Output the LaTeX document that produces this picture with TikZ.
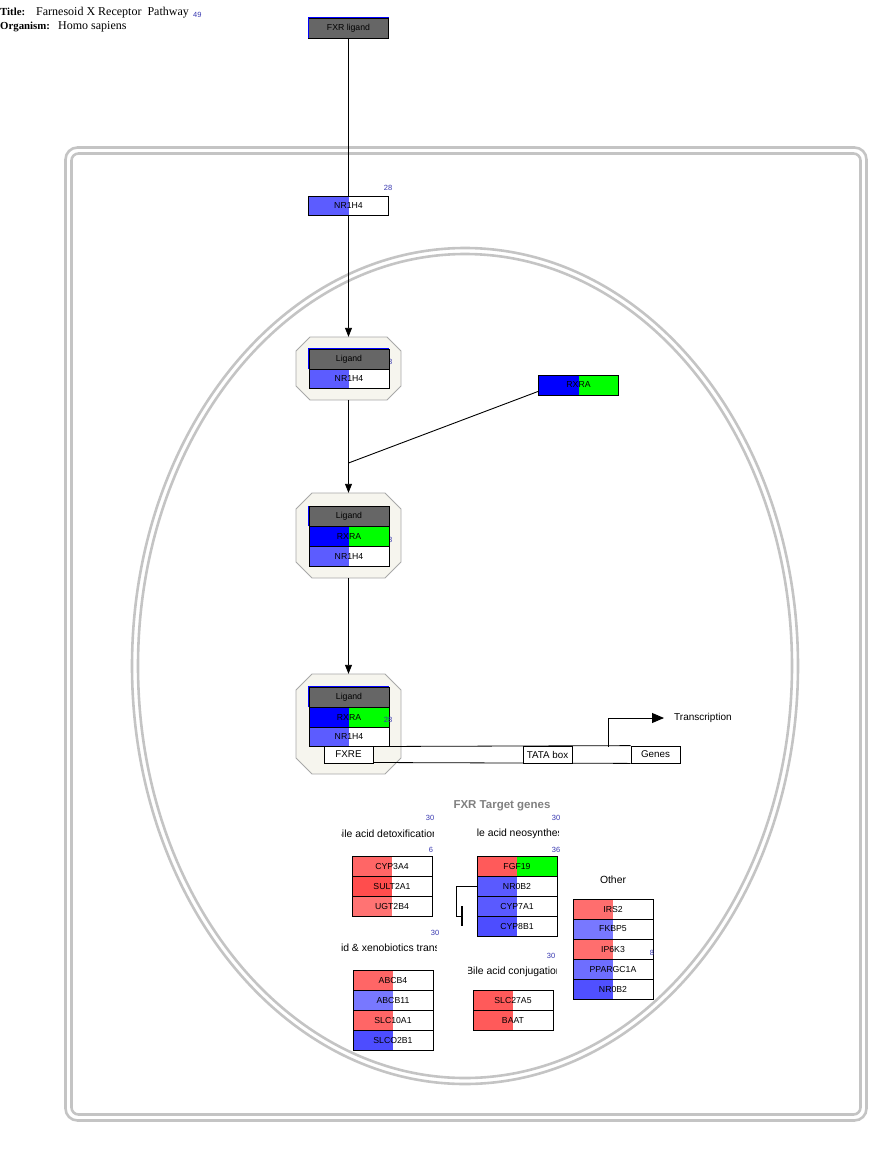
\documentclass[tikz,border=0pt]{standalone}
\usepackage{fontspec}
\setmainfont{Liberation Serif}
\newfontfamily\arial{Liberation Sans}
\usetikzlibrary{arrows.meta}
\definecolor{lig}{HTML}{666666}
\definecolor{nrb}{HTML}{5C5CFF}
\definecolor{rxb}{HTML}{0000FF}
\definecolor{rxg}{HTML}{00FF00}
\definecolor{numblue}{HTML}{3838B0}
\definecolor{framegray}{HTML}{C4C4C4}
\definecolor{cpxfill}{HTML}{F6F5EE}
\definecolor{cpxborder}{HTML}{A8A8A8}
\definecolor{titlegray}{HTML}{808080}
\definecolor{rA}{HTML}{FF6666}
\definecolor{rB}{HTML}{FF4D4D}
\definecolor{rC}{HTML}{FF7373}
\definecolor{rD}{HTML}{FF5A5A}
\definecolor{rE}{HTML}{FF6E6E}
\definecolor{bA}{HTML}{5A5AFF}
\definecolor{bB}{HTML}{4D4DFF}
\definecolor{bC}{HTML}{7878FF}
\definecolor{bD}{HTML}{6E6EFF}
\definecolor{bE}{HTML}{5050FF}
\newcommand\octo[5]{\draw[cpx] (#1+#5,#2) -- (#3-#5,#2) -- (#3,#2+#5) -- (#3,#4-#5) -- (#3-#5,#4) -- (#1+#5,#4) -- (#1,#4-#5) -- (#1,#2+#5) -- cycle;}
\tikzset{
 gene/.style={draw=black, fill=white, line width=0.9pt, minimum width=80pt, minimum height=20pt, inner sep=0pt,
   font=\arial\fontsize{8.7}{9}\selectfont,
   path picture={\fill[#1] (path picture bounding box.south west) rectangle (path picture bounding box.north);}},
 ligbox/.style={draw=black, fill=lig, line width=0.9pt, minimum width=80pt, minimum height=20pt, inner sep=0pt,
   font=\arial\fontsize{8.7}{9}\selectfont},
 num/.style={font=\arial\fontsize{7.5}{8}\selectfont, text=numblue, inner sep=0pt},
 grp/.style={font=\arial\fontsize{10.4}{11}\selectfont, inner sep=0pt},
 dnabox/.style={draw=black, fill=white, line width=0.8pt, minimum width=49pt, minimum height=17pt, inner sep=0pt,
   font=\arial\fontsize{9.8}{10}\selectfont},
 frame/.style={draw=framegray, line width=2.6pt},
 cpx/.style={draw=cpxborder, fill=cpxfill, line width=0.9pt},
 conn/.style={draw=black, line width=0.9pt},
 arr/.style={conn, -{Triangle[length=9pt,width=7pt]}},
 cpxnode/.style={minimum width=105pt, inner sep=0pt},
 ttl/.style={anchor=base west, inner sep=0pt, font=\fontsize{12}{13}\selectfont},
 ttlb/.style={anchor=base west, inner sep=0pt, font=\fontsize{10.8}{12}\selectfont\bfseries},
}
\begin{document}
\begin{tikzpicture}[x=1pt,y=-1pt]
\useasboundingbox (0,0) rectangle (895,1149);
% title
\node[ttlb] (tl) at (0,15) {Title:};
\node[ttl] (tt) at (36,15) {Farnesoid X Receptor\ \ Pathway};
\node[num, anchor=base west] (tn) at (193,17) {49};
\node[ttlb] (ol) at (0,29) {Organism:};
\node[ttl] (os) at (58,29) {Homo sapiens};
% frames
\draw[frame, rounded corners=12pt] (65.5,147.5) rectangle (866.5,1120.5);
\draw[frame, rounded corners=7pt] (71.5,153.5) rectangle (860.5,1114.5);
\draw[frame] (465,666) ellipse [x radius=333, y radius=418];
\draw[frame] (465,666) ellipse [x radius=327, y radius=412];
% complexes
\octo{296}{337}{401}{400}{14}
\octo{296}{493}{401}{578}{16}
\octo{296}{674}{401}{774}{16}
\node[cpxnode, minimum height=63pt] (c1) at (348.5,368.5) {};
\node[cpxnode, minimum height=85pt] (c2) at (348.5,535.5) {};
\node[cpxnode, minimum height=100pt] (c3) at (348.5,724) {};
% connectors
\draw[arr] (348.5,38) -- (c1.north);
\draw[arr] (c1.south) -- (c2.north);
\draw[arr] (c2.south) -- (c3.north);
\coordinate (j1) at (348.5,463);
% nodes top
\node[ligbox] (fxr) at (348.5,28) {FXR ligand};
\draw[rxb, line width=0.8pt] (fxr.south west) -- (fxr.north west) -- (fxr.north east);
\node[num] (n28a) at (388,188) {28};
\node[gene=nrb, minimum height=19pt] (nr0) at (348.5,205.5) {NR1H4};
\node[gene=rxb, fill=rxg] (rxra) at (578.5,385) {RXRA};
\draw[conn] ([yshift=4pt]rxra.south west) -- (j1);
% complex 1
\node[num] (h1) at (388,362) {28};
\node[ligbox] (lg1) at (349,359) {Ligand};
\draw[rxb, line width=0.8pt] (lg1.south west) -- (lg1.north west) -- (lg1.north east);
\node[gene=nrb, minimum height=19pt] (nr1) at (349,378.5) {NR1H4};
% complex 2
\node[num] (h2) at (388,540) {28};
\node[ligbox] (lg2) at (349,516) {Ligand};
\draw[rxb, line width=0.8pt] (lg2.south west) -- (lg2.north west);
\node[gene=rxb, fill=rxg] (rx2) at (349,536) {RXRA};
\node[gene=nrb] (nr2) at (349,556) {NR1H4};
% complex 3
\node[ligbox] (lg3) at (349,697) {Ligand};
\draw[rxb, line width=0.8pt] (lg3.south west) -- (lg3.north west) -- (lg3.north east);
\node[gene=rxb, fill=rxg] (rx3) at (349,717) {RXRA};
\node[gene=nrb, minimum height=19pt] (nr3) at (349,736.5) {NR1H4};
\node[num] (n28b) at (388,720) {28};
% DNA
\node[dnabox] (genes) at (655.5,754.5) {Genes};
\draw[conn, line width=0.8pt] (nr3.south east) -- (genes.north west);
\draw[conn, line width=0.8pt] (373,762.5) -- (genes.south west);
\node[dnabox] (fxre) at (348.5,754.5) {FXRE};
\node[dnabox] (tata) at (547.5,754.5) {TATA box};
\node[anchor=west, inner sep=0pt, font=\arial\fontsize{10}{10}\selectfont] (trans) at (674,718) {Transcription};
\coordinate (tss) at (608,746.5);
\draw[conn, -{Triangle[length=12pt,width=10pt]}] (tss) -- (608,718) -- ([xshift=-10pt]trans.west);
% target genes
\node[font=\arial\bfseries\fontsize{11.5}{12}\selectfont, text=titlegray, inner sep=0pt] (tg) at (502,806) {FXR Target genes};
\node[num] (n30a) at (430,818) {30};
\node[num] (n30b) at (556,818) {30};
\node[num] (n6) at (431,850) {6};
\node[num] (n36) at (556,850) {36};
\node[num] (n30c) at (435,933) {30};
\node[num] (n30d) at (551,956) {30};
\begin{scope}\clip (341,826) rectangle (433,843);
\node[grp] (gdet) at (386.5,834) {Bile acid detoxification};\end{scope}
\begin{scope}\clip (476,826) rectangle (558,843);
\node[grp] (gneo) at (519,834) {Bile acid neosynthesis};\end{scope}
\begin{scope}\clip (341,941) rectangle (436,958);
\node[grp] (gtra) at (383.8,949) {Bile acid \& xenobiotics transport};\end{scope}
\begin{scope}\clip (468,964) rectangle (556,981);
\node[grp] (gcon) at (514,972) {Bile acid conjugation};\end{scope}
\node[grp] (goth) at (613,880) {Other};
% detox
\node[gene=rA] (cyp3a4) at (392,866) {CYP3A4};
\node[gene=rB] (sult2a1) at (392,886) {SULT2A1};
\node[gene=rC] (ugt2b4) at (392,906) {UGT2B4};
% neosynthesis
\node[gene=rD, fill=rxg] (fgf19) at (517,866) {FGF19};
\node[gene=bA] (nr0b2a) at (517,886) {NR0B2};
\node[gene=bA] (cyp7a1) at (517,906) {CYP7A1};
\node[gene=bB] (cyp8b1) at (517,926) {CYP8B1};
\coordinate (inh) at (462,916);
\draw[conn] (nr0b2a.west) -- (456,886) -- (456,916) -- (inh);
\draw[line width=2.2pt] ([yshift=10pt]inh) -- ([yshift=-10pt]inh);
% transport
\node[gene=rA] (abcb4) at (393,980) {ABCB4};
\node[gene=bC] (abcb11) at (393,1000) {ABCB11};
\node[gene=rA] (slc10a1) at (393,1020) {SLC10A1};
\node[gene=bB] (slco2b1) at (393,1040) {SLCO2B1};
% conjugation
\node[gene=rD] (slc27a5) at (513,1000) {SLC27A5};
\node[gene=rD] (baat) at (513,1020) {BAAT};
% other
\node[gene=rE] (irs2) at (613,909) {IRS2};
\node[gene=bC] (fkbp5) at (613,929) {FKBP5};
\node[gene=rE] (ip6k3) at (613,949) {IP6K3};
\node[gene=bD] (ppargc1a) at (613,969) {PPARGC1A};
\node[gene=bE] (nr0b2b) at (613,989) {NR0B2};
\node[num] (n8) at (652,953) {8};
\end{tikzpicture}
\end{document}
